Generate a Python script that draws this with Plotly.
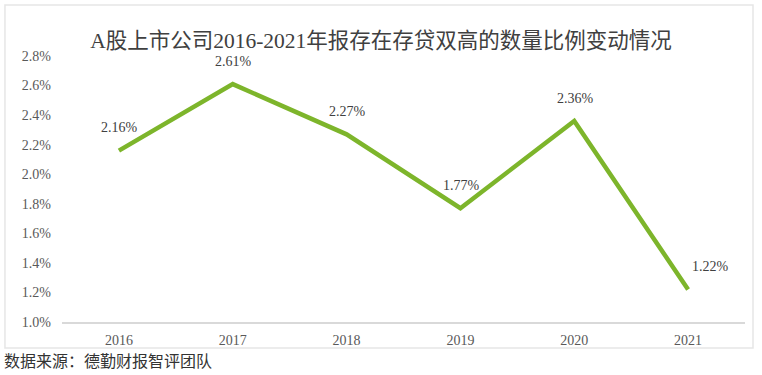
import plotly.graph_objects as go

years = ["2016", "2017", "2018", "2019", "2020", "2021"]
ratios = [2.16, 2.61, 2.27, 1.77, 2.36, 1.22]
labels = ["2.16%", "2.61%", "2.27%", "1.77%", "2.36%", "1.22%"]
tick_vals = [1.0, 1.2, 1.4, 1.6, 1.8, 2.0, 2.2, 2.4, 2.6, 2.8]
tick_text = ["1.0%", "1.2%", "1.4%", "1.6%", "1.8%", "2.0%", "2.2%", "2.4%", "2.6%", "2.8%"]

title = "A股上市公司2016-2021年报存在存贷双高的数量比例变动情况"
source = "数据来源：德勤财报智评团队"

serif = "Liberation Serif, Noto Sans CJK SC"

fig = go.Figure()
fig.add_trace(go.Scatter(
    x=years, y=ratios, mode="lines",
    line=dict(color="#7DB52B", width=4.5),
    hoverinfo="skip", showlegend=False,
))

for i, (v, lab) in enumerate(zip(ratios, labels)):
    xs = 22 if i == len(years) - 1 else 1
    ys = 23
    fig.add_annotation(x=i, y=v, text=lab, showarrow=False,
                       xshift=xs, yshift=ys,
                       font=dict(family=serif, size=14, color="#404040"))

fig.update_layout(
    width=762, height=375,
    margin=dict(l=62, r=17, t=56, b=53),
    paper_bgcolor="white", plot_bgcolor="white",
    title=dict(text=title, x=0.5, xanchor="center", y=0.893, yanchor="middle",
               font=dict(family=serif, size=21.5, color="#404040")),
    xaxis=dict(type="category", categoryorder="array", categoryarray=years,
               range=[-0.5, len(years) - 0.5],
               showgrid=False, showline=True,
               linecolor="#d9d9d9", linewidth=1.5, ticks="",
               tickfont=dict(family=serif, size=14, color="#595959"),
               ticklabelstandoff=4, fixedrange=True),
    yaxis=dict(range=[1.0, 2.8], tickvals=tick_vals, ticktext=tick_text,
               showgrid=False, zeroline=False, showline=False, ticks="",
               tickfont=dict(family=serif, size=14, color="#595959"),
               ticklabelstandoff=10, fixedrange=True),
    shapes=[dict(type="rect", xref="paper", yref="paper",
                 x0=-0.0835, x1=1.0117, y0=-0.0977, y1=1.1917,
                 line=dict(color="#e6e6e6", width=1.5), fillcolor="rgba(0,0,0,0)")],
)

fig.add_annotation(text=source, xref="paper", yref="paper",
                   x=-0.0875, y=-0.143, xanchor="left", yanchor="middle",
                   showarrow=False,
                   font=dict(family="Noto Sans CJK SC", size=16, color="#333333"))

fig.write_html("out.html", post_script="document.body.style.margin='0';",
               config={"displayModeBar": False})
